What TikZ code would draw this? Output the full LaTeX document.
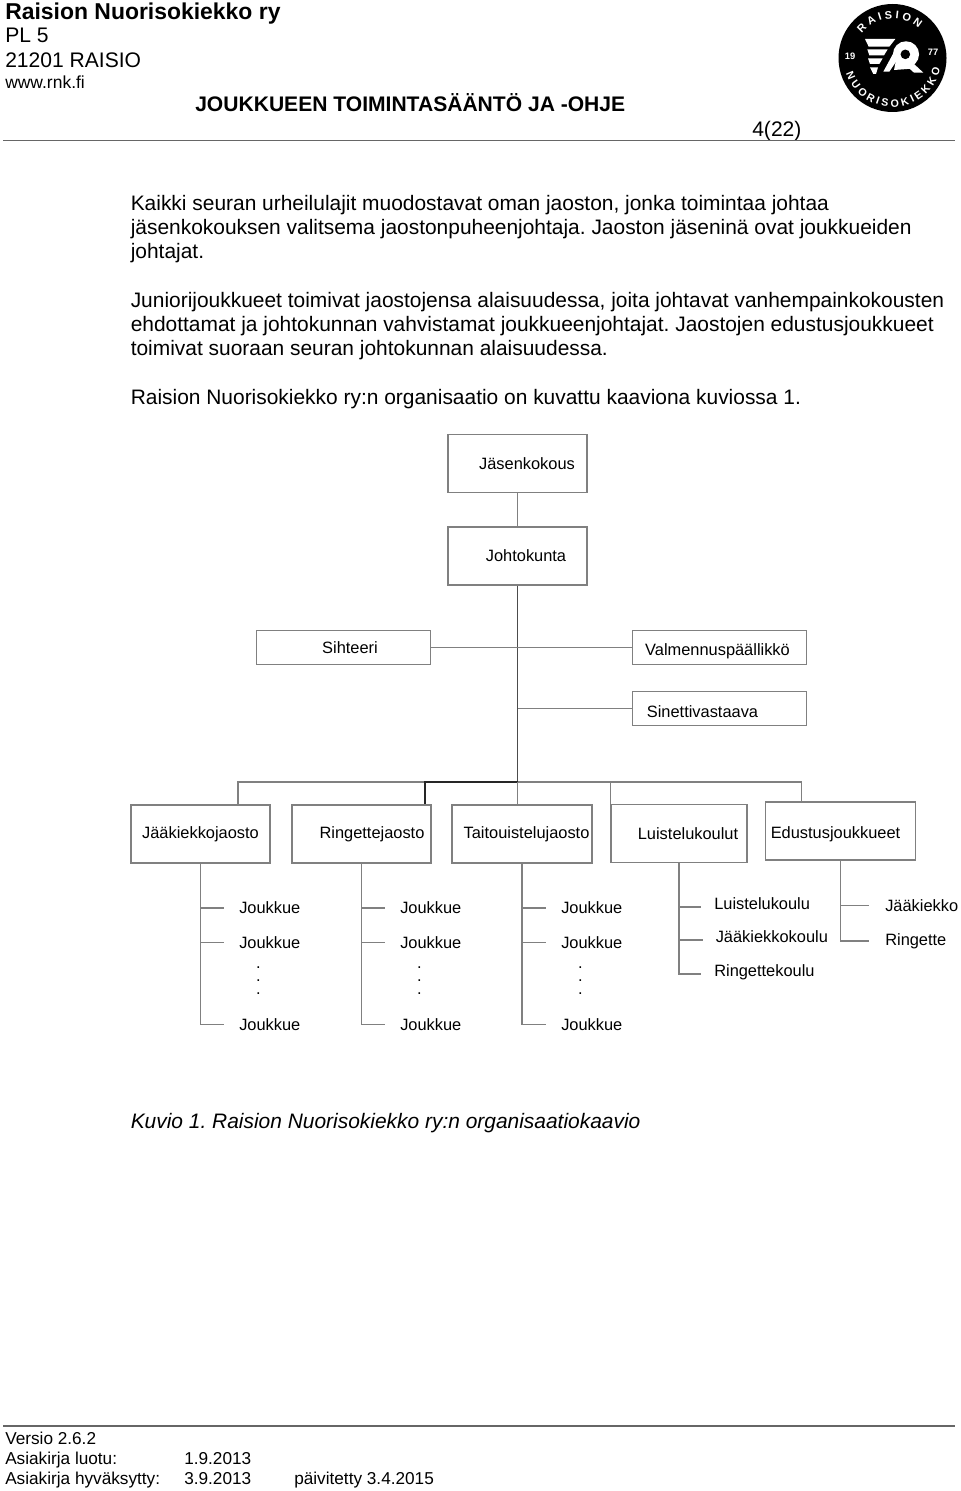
\documentclass[tikz,border=0pt]{standalone}
\usepackage{fontspec}
\setmainfont{Liberation Sans}
\usetikzlibrary{positioning}
\usetikzlibrary{decorations.text}

\begin{document}
\frenchspacing
\begin{tikzpicture}[
	x=0.75pt, y=-0.75pt,
	orgbox/.style={rectangle, draw=black!50, fill=white, line width=0.8pt, inner sep=0pt, font=\fontsize{12.3}{14}\selectfont},
	tall/.style={minimum width=104.25pt, minimum height=43.5pt},
	flat/.style={minimum width=130pt, minimum height=26pt},
	conn/.style={draw=black!50, line width=0.8pt},
	teamlabel/.style={anchor=west, inner sep=0pt, font=\fontsize{12.3}{14}\selectfont},
	schoollabel/.style={teamlabel, text depth=4.5pt},
	dotlabel/.style={anchor=base, inner sep=0pt, font=\fontsize{12.3}{14}\selectfont},
	bodytext/.style={anchor=north west, inner sep=0pt, align=left, font=\fontsize{15.7}{18.2}\selectfont},
	headtext/.style={anchor=base west, inner sep=0pt, font=\fontsize{15.8}{18}\selectfont},
	foottext/.style={anchor=base west, inner sep=0pt, font=\fontsize{12.9}{14}\selectfont},
	logotext/.style={inner sep=0pt, text=white, font=\fontsize{7}{7}\selectfont\bfseries},
	]
	\useasboundingbox (0,0) rectangle (960,1491);

	%Header
	\node[headtext, font=\fontsize{17.2}{18}\selectfont\bfseries] (club) at (5,19.5) {Raision Nuorisokiekko ry};
	\node[headtext] (pobox) at (5,43) {PL 5};
	\node[headtext] (city) at (5,68) {21201 RAISIO};
	\node[headtext, font=\fontsize{13.1}{14}\selectfont] (web) at (5,88.5) {www.rnk.fi};
	\node[headtext, font=\fontsize{15.8}{18}\selectfont\bfseries] (title) at (195,111.5) {JOUKKUEEN TOIMINTASÄÄNTÖ JA -OHJE};
	\node[headtext] (page) at (752,136.5) {4(22)};
	\draw[black!60, line width=0.9pt] (3,140.5) -- (955,140.5);

	%Logo
	\fill[black] (892.5,58) circle (40.5pt);
	\begin{scope}[shift={(820,0)}, x=0.25pt, y=-0.25pt]
		\fill[white] (135,117) -- (226,117) -- (208,140) -- (146,140) -- cycle;
		\fill[white] (142,148) -- (203,148) -- (192,166) -- (148,166) -- cycle;
		\fill[white] (144,175) -- (188,175) -- (178,192) -- (150,192) -- cycle;
		\fill[white] (150,202) -- (174,202) -- (168,222) -- (160,222) -- cycle;
		\fill[white] (258,163) circle (9.8pt);
		\fill[white] (235,132) -- (190,215) -- (208,215) -- (245,160) -- cycle;
		\fill[white] (228,180) -- (222,210) -- (275,206) -- (285,185) -- cycle;
		\fill[white] (280,190) -- (310,218) -- (282,218) -- (262,200) -- cycle;
		\fill[black] (256,163) circle (3.6pt);
	\end{scope}
	\begin{scope}[shift={(892.5,58)}, x=0.75pt, y=0.75pt]
		\path[decorate, decoration={text along path, text align={center}, text={|\fontsize{8.2}{8}\selectfont\bfseries\color{white}|R A I S I O N}}]
			(150:39.5) arc (150:40:39.5);
		\path[decorate, decoration={text along path, text align={center}, text={|\fontsize{8}{8}\selectfont\bfseries\color{white}|N U O R I S O K I E K K O}}]
			(186:49) arc (186:360:49);
	\end{scope}
	\node[logotext] (yearl) at (850,56) {19};
	\node[logotext] (yearr) at (933,52) {77};

	%Text
	\node[bodytext] (par1) at (130.5,195) {Kaikki seuran urheilulajit muodostavat oman jaoston, jonka toimintaa johtaa\\jäsenkokouksen valitsema jaostonpuheenjohtaja. Jaoston jäseninä ovat joukkueiden\\johtajat.};
	\node[bodytext] (par2) at (130.5,292) {Juniorijoukkueet toimivat jaostojensa alaisuudessa, joita johtavat vanhempainkokousten\\ehdottamat ja johtokunnan vahvistamat joukkueenjohtajat. Jaostojen edustusjoukkueet\\toimivat suoraan seuran johtokunnan alaisuudessa.};
	\node[bodytext] (par3) at (130.5,389) {Raision Nuorisokiekko ry:n organisaatio on kuvattu kaaviona kuviossa 1.};

	%Nodes
	\node[orgbox, tall] (jasen) at (517.5,463.5) {\hspace*{14.25pt}Jäsenkokous};
	\node[orgbox, tall] (joht)  at (517.5,556)   {\hspace*{12.75pt}Johtokunta};
	\node[orgbox, flat] (siht)  at (343.5,647.5) {\hspace*{9.75pt}Sihteeri};
	\node[orgbox, flat] (valm)  at (719.5,647.5) {\raisebox{-3pt}[\height][\depth]{Valmennuspäällikkö}\hspace*{3pt}};
	\node[orgbox, flat] (sin)   at (719.5,708.5) {\raisebox{-2.25pt}[\height][\depth]{Sinettivastaava}\hspace*{25.5pt}};
	\node[orgbox, tall] (jk)    at (200.5,834)   {Jääkiekkojaosto};
	\node[orgbox, tall] (rj)    at (361.5,834)   {\hspace*{15.75pt}Ringettejaosto};
	\node[orgbox, tall, minimum width=105pt] (tj) at (522,834) {\hspace*{6.75pt}Taitouistelujaosto};
	\node[orgbox, tall, minimum width=102pt] (lk) at (679,833.5) {\hspace*{13.5pt}Luistelukoulut};
	\node[orgbox, tall, minimum width=113pt] (ej) at (840.5,831) {\raisebox{-2.25pt}[\height][\depth]{Edustusjoukkueet}\hspace*{7.5pt}};
	\coordinate (bus) at (517.5,782);

	\foreach \col/\xt in {a/239, b/400, c/561}{
		\node[teamlabel] (\col1) at (\xt,908)    {Joukkue};
		\node[teamlabel] (\col2) at (\xt,942.5)  {Joukkue};
		\node[teamlabel] (\col3) at (\xt,1024.5) {Joukkue};
		\foreach \n/\yd in {1/968, 2/981, 3/994}
			\node[dotlabel] (\col dot\n) at (\xt+19.5,\yd) {.};
	}
	\node[schoollabel] (lk1) at (714,907) {Luistelukoulu};
	\node[schoollabel] (lk2) at (715.5,940) {Jääkiekkokoulu};
	\node[schoollabel] (lk3) at (714,974) {Ringettekoulu};
	\node[teamlabel] (ej1) at (885,905.5) {Jääkiekko};
	\node[teamlabel] (ej2) at (885,941)   {Ringette};

	%Lines
	\draw[conn] (jasen.south) -- (joht.north);
	\draw[draw=black!70, line width=1.2pt] (joht.south) -- (bus);
	\draw[conn] (siht.east) -- (valm.west);
	\draw[conn] (sin.west) -- (sin.west -| joht.south);
	\draw[conn] (bus) -| ([xshift=28.1pt]jk.north);
	\draw[conn] (bus) -| ([xshift=-29.6pt]ej.north);
	\draw[black!85, line width=0.9pt] (bus) -| ([xshift=47.6pt]rj.north);
	\draw[conn] (bus) -- (bus |- tj.north);
	\draw[conn] (bus -| lk.north west) -- (lk.north west);
	\foreach \parent/\col in {jk/a, rj/b, tj/c}{
		\foreach \n in {1,2,3}
			\draw[conn, shorten >=11.25pt] (\parent.south) |- (\col\n.west);
	}
	\foreach \n in {1,2,3}
		\draw[conn, shorten >=9.75pt] (lk.south) |- (lk\n.west);
	\foreach \n in {1,2}
		\draw[conn, shorten >=12pt] (ej.south) |- (ej\n.west);

	%Caption
	\node[bodytext, font=\fontsize{15.7}{18}\selectfont\itshape] (cap) at (130.5,1113) {Kuvio 1. Raision Nuorisokiekko ry:n organisaatiokaavio};

	%Footer
	\draw[black!60, line width=0.9pt] (3,1426) -- (955,1426);
	\node[foottext] (vers)  at (5,1444.5)   {Versio 2.6.2};
	\node[foottext] (made)  at (5,1464.5)   {Asiakirja luotu:};
	\node[foottext] (madev) at (184,1464.5) {1.9.2013};
	\node[foottext] (appr)  at (5,1484.5)   {Asiakirja hyväksytty:};
	\node[foottext] (apprv) at (184,1484.5) {3.9.2013};
	\node[foottext] (upd)   at (294,1484.5) {päivitetty 3.4.2015};
\end{tikzpicture}
\end{document}
